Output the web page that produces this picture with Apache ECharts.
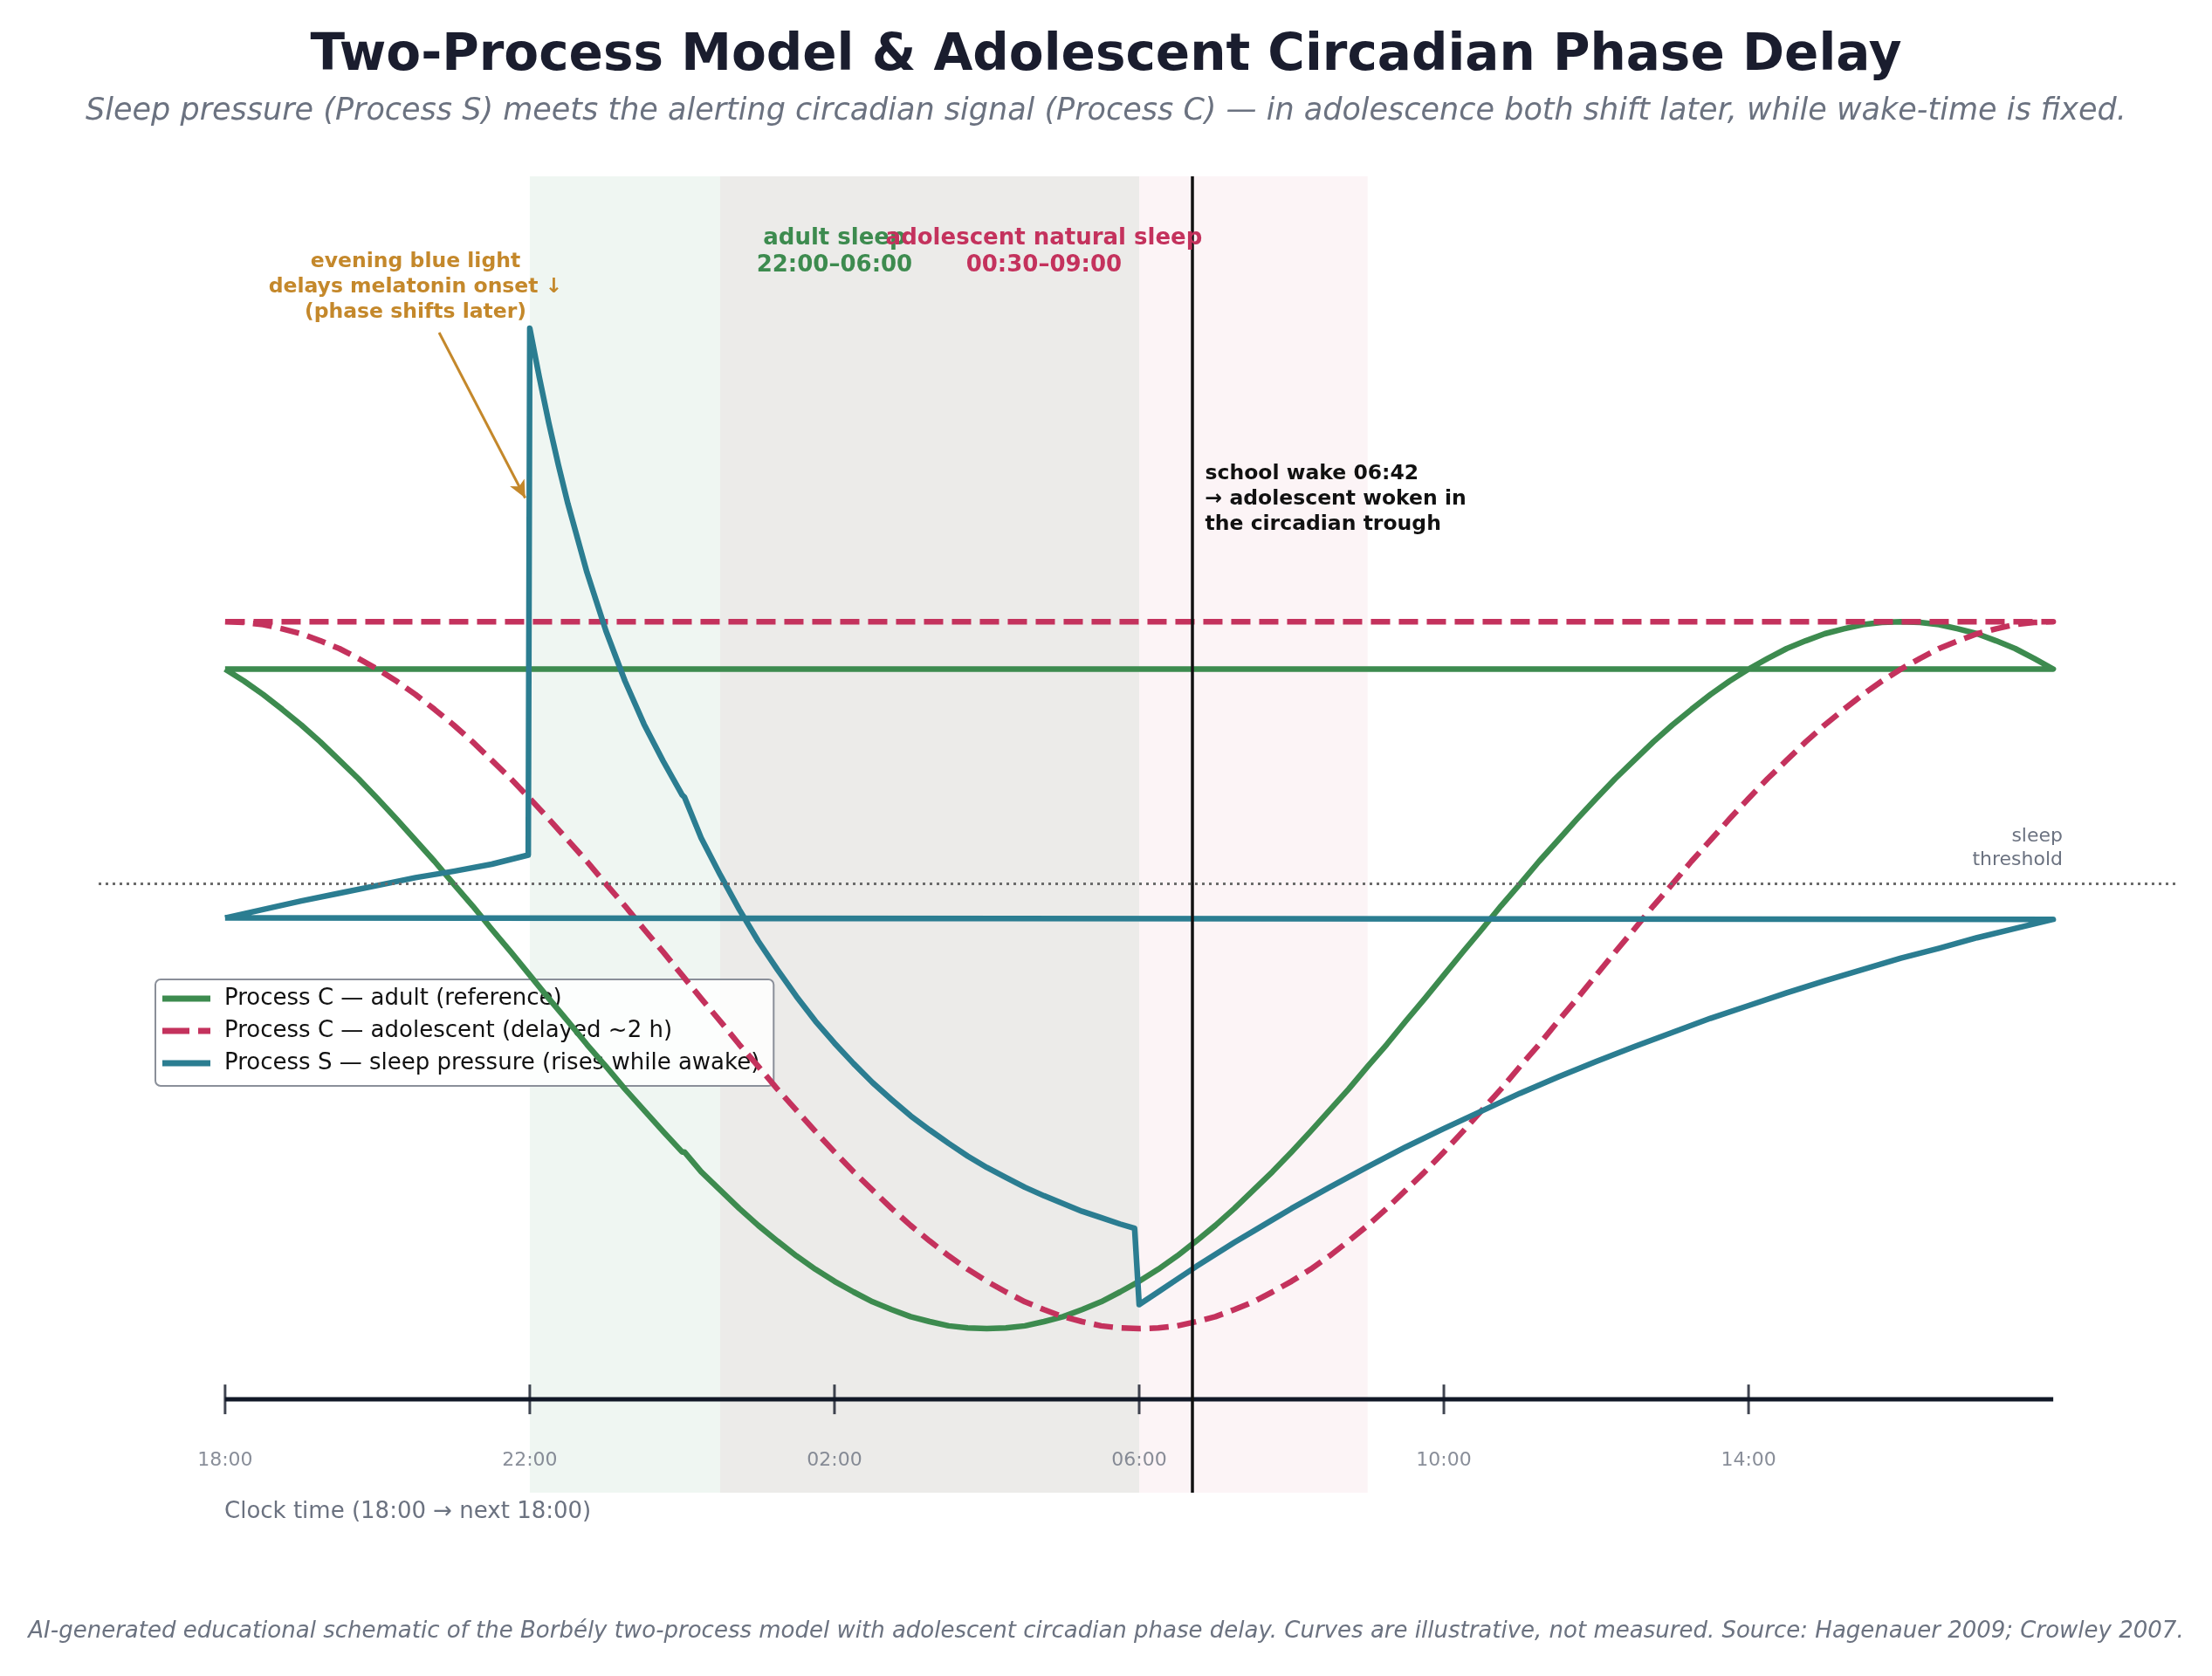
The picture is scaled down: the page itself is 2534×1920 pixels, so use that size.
<!DOCTYPE html>
<html>
<head>
<meta charset="utf-8">
<script src="https://cdn.jsdelivr.net/npm/echarts@6/dist/echarts.min.js"></script>
<style>
html,body{margin:0;padding:0;background:#fff;}
#chart{width:2534px;height:1920px;}
</style>
</head>
<body>
<div id="chart"></div>
<script>
// ---- Data (hours after 18:00; the final point wraps back to 18:00) ----
const range = (a, b, s) => { const r = []; for (let x = a; x <= b + 1e-9; x += s) r.push(+x.toFixed(3)); return r; };

const adultHours = [...range(0, 6, 0.25), 6.03, ...range(6.25, 24, 0.25), 0];
const adultC = [
  1.033,1.016,0.997,0.976,0.954,0.930,0.904,0.878,0.850,0.821,0.791,0.761,0.729,0.698,0.665,0.633,0.600,0.567,0.535,0.502,0.471,0.439,0.409,0.379,0.350,
  0.350,
  0.322,0.296,0.270,0.246,0.224,0.203,0.184,0.167,0.152,0.138,0.127,0.117,0.110,0.104,0.101,0.100,0.101,0.104,0.110,0.117,0.127,0.138,0.152,0.167,
  0.184,0.203,0.224,0.246,0.270,0.296,0.322,0.350,0.379,0.409,0.439,0.471,0.502,0.535,0.567,0.600,0.633,0.665,0.698,0.729,0.761,0.791,0.821,0.850,
  0.878,0.904,0.930,0.954,0.976,0.997,1.016,1.033,1.048,1.062,1.073,1.083,1.090,1.096,1.099,1.100,1.099,1.096,1.090,1.083,1.073,1.062,1.048,1.033,
  1.033];

const adolHours = [...range(0, 24, 0.25), 0];
const adolC = [
  1.100,1.099,1.096,1.090,1.083,1.073,1.062,1.048,1.033,1.016,0.997,0.976,0.954,0.930,0.904,0.878,0.850,0.821,0.791,0.761,0.729,0.698,0.665,0.633,0.600,
  0.567,0.535,0.502,0.471,0.439,0.409,0.379,0.350,0.322,0.296,0.270,0.246,0.224,0.203,0.184,0.167,0.152,0.138,0.127,0.117,0.110,0.104,0.101,0.100,
  0.101,0.104,0.110,0.117,0.127,0.138,0.152,0.167,0.184,0.203,0.224,0.246,0.270,0.296,0.322,0.350,0.379,0.409,0.439,0.471,0.502,0.535,0.567,0.600,
  0.633,0.665,0.698,0.729,0.761,0.791,0.821,0.850,0.878,0.904,0.930,0.954,0.976,0.997,1.016,1.033,1.048,1.062,1.073,1.083,1.090,1.096,1.099,1.100,
  1.100];

const sleepHours = [0,0.5,1,1.5,2,2.5,3,3.5,3.98,
  4,4.125,4.25,4.375,4.5,4.75,5,5.25,5.5,5.75,6,
  6.03,6.25,6.5,6.75,7,7.25,7.5,7.75,8,8.25,8.5,8.75,9,9.25,9.5,9.75,10,10.25,10.5,10.75,11,11.25,11.5,11.75,11.94,
  12,12.25,12.5,12.75,13,13.25,13.5,13.75,14,14.5,15,15.5,16,16.5,17,17.5,18,18.5,19,19.5,20,20.5,21,21.5,22,22.5,23,23.5,24,
  0];
const processS = [0.681,0.693,0.705,0.716,0.727,0.738,0.747,0.757,0.770,
  1.515,1.446,1.381,1.322,1.267,1.170,1.087,1.016,0.955,0.903,0.855,
  0.852,0.794,0.742,0.693,0.648,0.608,0.570,0.535,0.504,0.475,0.448,0.424,0.401,0.381,0.362,0.344,0.328,0.314,0.300,0.288,0.277,0.266,0.257,0.248,0.242,
  0.134,0.152,0.170,0.188,0.205,0.222,0.238,0.254,0.270,0.300,0.329,0.357,0.383,0.408,0.433,0.456,0.478,0.499,0.519,0.539,0.557,0.575,0.592,0.608,0.624,0.638,0.653,0.666,0.679,
  0.681];

const tickHours = [0,4,8,12,16,20];
const tickLabels = ['18:00','22:00','02:00','06:00','10:00','14:00'];
const axisSpan = [0,24];

const adultSleep = [4,12];       // 22:00–06:00
const adolSleep = [6.5,15];      // 00:30–09:00
const schoolWake = 12.7;         // 06:42
const sleepThreshold = 0.733;

const seriesNames = ['Process C — adult (reference)','Process C — adolescent (delayed ~2 h)','Process S — sleep pressure (rises while awake)'];

const FONT = 'DejaVu Sans';
const GREEN = '#3d8b4f', RED = '#c4325d', BLUE = '#2b7d91', GOLD = '#c4882b', INK = '#1a1d2e', GREY = '#6b7280';

const pair = (xs, ys) => xs.map((x, i) => [x, ys[i]]);

const chart = echarts.init(document.getElementById('chart'), null, {renderer:'canvas'});

const textPoint = (coord, text, color, size, pos, lh, weight, align) => ({
  coord: coord, symbol:'circle', symbolSize:1, itemStyle:{color:'rgba(0,0,0,0)'},
  label:{show:true, position:pos, distance:0, formatter:text, color:color, fontSize:size,
         fontWeight:weight || 'bold', fontFamily:FONT, lineHeight:lh, align:align || 'center'}
});

const option = {
  backgroundColor:'#ffffff',
  animation:false,
  title:[
    {text:'Two-Process Model & Adolescent Circadian Phase Delay', left:'center', top:31,
     textStyle:{fontFamily:FONT, fontWeight:'bold', fontSize:58, color:INK}},
    {text:'Sleep pressure (Process S) meets the alerting circadian signal (Process C) — in adolescence both shift later, while wake-time is fixed.',
     left:'center', top:105, textStyle:{fontFamily:FONT, fontStyle:'italic', fontWeight:'normal', fontSize:35, color:GREY}},
    {text:'AI-generated educational schematic of the Borbély two-process model with adolescent circadian phase delay. Curves are illustrative, not measured. Source: Hagenauer 2009; Crowley 2007.',
     left:'center', top:1851, textStyle:{fontFamily:FONT, fontStyle:'italic', fontWeight:'normal', fontSize:26, color:GREY}},
    {text:'Clock time (18:00 → next 18:00)', left:252, top:1714,
     textStyle:{fontFamily:FONT, fontWeight:'normal', fontSize:26, color:GREY}}
  ],
  grid:{left:113, right:37, top:202, bottom:210, containLabel:false},
  xAxis:{type:'value', min:-1.66, max:25.66, show:false},
  yAxis:{type:'value', min:-0.132, max:1.73, show:false},
  legend:{
    data:[
      {name:seriesNames[0], icon:'path://M0,0H55V7H0Z M65.9,3H66V4H65.9Z'},
      {name:seriesNames[1], icon:'path://M0,0H31V7H0Z M41,0H55V7H41Z M65.9,3H66V4H65.9Z'},
      {name:seriesNames[2], icon:'path://M0,0H55V7H0Z M65.9,3H66V4H65.9Z'}
    ],
    orient:'vertical', left:178, top:1122,
    backgroundColor:'rgba(255,255,255,0.82)', borderColor:'#8a8f99', borderWidth:2, borderRadius:6,
    padding:[8,16,12,8], itemWidth:66, itemHeight:7, itemGap:9,
    textStyle:{fontFamily:FONT, fontSize:26, lineHeight:28, color:'#111111'}
  },
  series:[
    {
      name:'spans', type:'line', data:[], silent:true, z:1,
      markArea:{silent:true, data:[
        [{xAxis:adultSleep[0], itemStyle:{color:'rgba(46,139,87,0.075)'}},{xAxis:adultSleep[1]}],
        [{xAxis:adolSleep[0], itemStyle:{color:'rgba(194,49,90,0.055)'}},{xAxis:adolSleep[1]}]
      ]},
      markLine:{silent:true, symbol:['none','none'], label:{show:false}, data:[
        {yAxis:sleepThreshold, lineStyle:{color:'#6b6b6b', width:3, type:[3,5]}}
      ]}
    },
    {
      name:'axis', type:'line', data:pair(axisSpan,[0,0]), showSymbol:false, symbol:'none', silent:true, z:3,
      lineStyle:{color:'#111827', width:5}
    },
    {
      name:'ticks', type:'scatter', data:tickHours.map(h => [h,0]), symbol:'rect', symbolSize:[3,34], silent:true, z:3,
      itemStyle:{color:'#111827'},
      label:{show:true, position:'bottom', distance:42, formatter:p => tickLabels[p.dataIndex],
             fontFamily:FONT, fontSize:22, color:GREY}
    },
    {
      name:seriesNames[0], type:'line', data:pair(adultHours, adultC), showSymbol:false, symbol:'none', z:4,
      lineStyle:{color:GREEN, width:6.5, join:'round'}, itemStyle:{color:GREEN}
    },
    {
      name:seriesNames[1], type:'line', data:pair(adolHours, adolC), showSymbol:false, symbol:'none', z:4,
      lineStyle:{color:RED, width:6.5, type:[22,10], join:'round'}, itemStyle:{color:RED}
    },
    {
      name:seriesNames[2], type:'line', data:pair(sleepHours, processS), showSymbol:false, symbol:'none', z:4,
      lineStyle:{color:BLUE, width:6.5, join:'round'}, itemStyle:{color:BLUE}
    },
    {
      name:'wake', type:'line', data:[], silent:true, z:5,
      markLine:{silent:true, symbol:['none','none'], label:{show:false},
        lineStyle:{color:'#111111', width:3.5, type:'solid'},
        data:[{xAxis:schoolWake}]}
    },
    {
      name:'annotations', type:'line', data:[], silent:true, z:6,
      markLine:{silent:true, symbol:['none','arrow'], symbolSize:[14,20], label:{show:false},
        lineStyle:{color:GOLD, width:3, type:'solid'},
        data:[[{coord:[2.81,1.509]},{coord:[3.94,1.275]}]]},
      markPoint:{silent:true, data:[
        textPoint([2.5,1.573], 'evening blue light\ndelays melatonin onset ↓\n(phase shifts later)', GOLD, 23.5, 'inside', 29),
        textPoint([8,1.623], 'adult sleep\n22:00–06:00', GREEN, 26, 'inside', 31),
        textPoint([10.75,1.623], 'adolescent natural sleep\n00:30–09:00', RED, 26, 'inside', 31),
        textPoint([12.86,1.273], 'school wake 06:42\n→ adolescent woken in\nthe circadian trough', '#111111', 23.5, 'right', 29, 'bold', 'left'),
        textPoint([24.13,0.779], 'sleep\nthreshold', GREY, 22, 'left', 27, 'normal', 'right')
      ]}
    }
  ]
};
chart.setOption(option);
</script>
</body>
</html>
